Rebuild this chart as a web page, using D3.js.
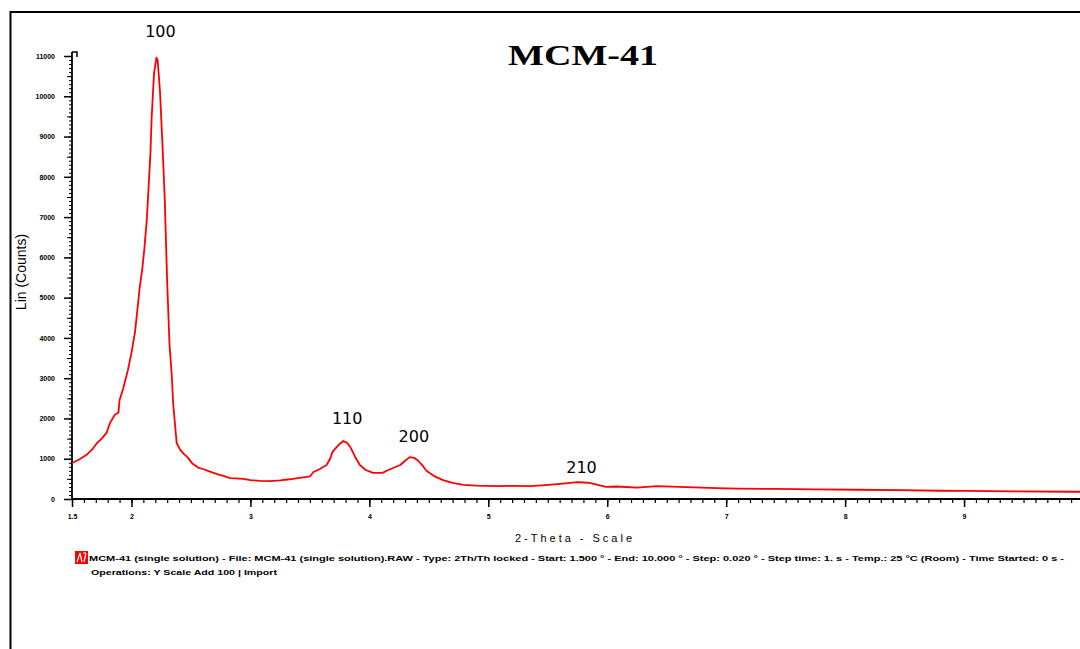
<!DOCTYPE html>
<html>
<head>
<meta charset="utf-8">
<script src="https://cdn.jsdelivr.net/npm/d3@7"></script>
<style>
  html, body { margin: 0; padding: 0; background: #fff; }
  svg { display: block; }
</style>
</head>
<body>
<svg id="chart" width="1080" height="649"></svg>
<script>
// XRD pattern of MCM-41: 2-theta (degrees) and intensity (counts)
const twoTheta = [
  1.50, 1.56, 1.62, 1.67, 1.71, 1.75, 1.79, 1.82, 1.86, 1.89, 1.90, 1.93, 1.97,
  2.00, 2.03, 2.05, 2.07, 2.09, 2.11, 2.13, 2.16, 2.17, 2.19, 2.21, 2.22, 2.24,
  2.26, 2.28, 2.30, 2.32, 2.34, 2.35, 2.38, 2.41, 2.44, 2.47, 2.51, 2.56, 2.60,
  2.66, 2.72, 2.78, 2.83, 2.88, 2.94, 3.00, 3.08, 3.16, 3.25, 3.33, 3.40, 3.46,
  3.50, 3.53, 3.58, 3.64, 3.67, 3.69, 3.74, 3.78, 3.81, 3.84, 3.88, 3.92, 3.97,
  4.03, 4.11, 4.16, 4.20, 4.26, 4.30, 4.34, 4.38, 4.41, 4.45, 4.48, 4.55, 4.62,
  4.70, 4.79, 4.90, 5.07, 5.20, 5.35, 5.45, 5.58, 5.65, 5.75, 5.80, 5.85, 5.92,
  5.99, 6.08, 6.25, 6.42, 6.60, 6.80, 6.92, 7.10, 7.40, 7.76, 8.10, 8.46, 8.80,
  9.02, 9.40, 9.89, 10.00
];
const counts = [
  895, 980, 1090, 1230, 1390, 1500, 1640, 1890, 2090, 2140, 2460, 2740, 3200,
  3630, 4150, 4700, 5270, 5690, 6260, 6980, 8620, 9490, 10580, 10960, 10900, 10110,
  8840, 7430, 5400, 3830, 3010, 2390, 1390, 1220, 1120, 1040, 890, 780, 745,
  680, 620, 570, 520, 510, 500, 470, 450, 445, 465, 490, 520, 545,
  560, 670, 740, 845, 1000, 1170, 1340, 1440, 1400, 1290, 1050, 845, 720,
  650, 650, 720, 770, 845, 950, 1040, 1020, 950, 820, 700, 560, 470,
  400, 350, 330, 320, 325, 320, 340, 370, 390, 420, 410, 400, 350,
  300, 310, 280, 320, 300, 280, 270, 260, 250, 240, 230, 220, 205,
  200, 190, 180, 180
];

// Miller index annotations of the reflections
const peakLabels = ["100", "110", "200", "210"];
const peakPos = [2.21, 3.78, 4.34, 5.75];
const peakLabelHeight = [11470, 1860, 1420, 650];

// Axis tick values and labels
const xTickValues = [1.5, 2, 3, 4, 5, 6, 7, 8, 9];
const xTickLabels = ["1.5", "2", "3", "4", "5", "6", "7", "8", "9"];
const yTickValues = [0, 1000, 2000, 3000, 4000, 5000, 6000, 7000, 8000, 9000, 10000, 11000];
const yTickLabels = ["0", "1000", "2000", "3000", "4000", "5000", "6000", "7000", "8000", "9000", "10000", "11000"];

const legendLine1 = "MCM-41 (single solution) - File: MCM-41 (single solution).RAW - Type: 2Th/Th locked - Start: 1.500 \u00b0 - End: 10.000 \u00b0 - Step: 0.020 \u00b0 - Step time: 1. s - Temp.: 25 \u00b0C (Room) - Time Started: 0 s -";
const legendLine2 = "Operations: Y Scale Add 100 | Import";

const svg = d3.select("#chart");

// Outer frame (top and left edges)
svg.append("path")
  .attr("d", "M10.5,649 L10.5,12 L1080,12")
  .attr("fill", "none").attr("stroke", "#000").attr("stroke-width", 2);

const x = d3.scaleLinear().domain([1.5, 10]).range([72, 1083]);
const y = d3.scaleLinear().domain([0, 11000]).range([499, 56]);

// X axis: minor ticks every 0.1, major ticks with labels
const xMinor = svg.append("g").attr("transform", "translate(0,499)")
  .call(d3.axisBottom(x).tickValues(d3.range(15, 101).map(d => d / 10)).tickSize(4).tickFormat(""));
xMinor.select(".domain").remove();
xMinor.selectAll("line").attr("stroke", "#000").attr("stroke-width", 1.2);

const xMajor = svg.append("g").attr("transform", "translate(0,499)")
  .call(d3.axisBottom(x).tickValues(xTickValues).tickSize(8)
    .tickFormat((d, i) => xTickLabels[i]));
xMajor.select(".domain").remove();
xMajor.selectAll("line").attr("stroke", "#000").attr("stroke-width", 1.5);
xMajor.selectAll("text")
  .attr("y", 15).attr("font-family", "Liberation Sans, Arial, sans-serif")
  .attr("font-size", 7).attr("font-weight", "bold").attr("fill", "#000");

svg.append("line")
  .attr("x1", 72).attr("x2", 1080).attr("y1", 499).attr("y2", 499)
  .attr("stroke", "#000").attr("stroke-width", 1.8);

// Y axis: minor ticks every 100 counts, longer every 500, labelled every 1000
const yMinor = svg.append("g").attr("transform", "translate(72,0)")
  .call(d3.axisLeft(y).tickValues(d3.range(0, 11001, 100)).tickSize(3).tickFormat(""));
yMinor.select(".domain").remove();
yMinor.selectAll("line").attr("stroke", "#000").attr("stroke-width", 1);

const yMid = svg.append("g").attr("transform", "translate(72,0)")
  .call(d3.axisLeft(y).tickValues(d3.range(500, 11001, 1000)).tickSize(5).tickFormat(""));
yMid.select(".domain").remove();
yMid.selectAll("line").attr("stroke", "#000").attr("stroke-width", 1);

const yMajor = svg.append("g").attr("transform", "translate(72,0)")
  .call(d3.axisLeft(y).tickValues(yTickValues).tickSize(8)
    .tickFormat((d, i) => yTickLabels[i]));
yMajor.select(".domain").remove();
yMajor.selectAll("line").attr("stroke", "#000").attr("stroke-width", 1.5);
yMajor.selectAll("text")
  .attr("x", -17).attr("font-family", "Liberation Sans, Arial, sans-serif")
  .attr("font-size", 7).attr("font-weight", "bold").attr("fill", "#000");

svg.append("line")
  .attr("x1", 72).attr("x2", 72).attr("y1", 499).attr("y2", 52)
  .attr("stroke", "#000").attr("stroke-width", 1.8);
svg.append("path")
  .attr("d", `M72,52 L77,52 L77,57`)
  .attr("fill", "none").attr("stroke", "#000").attr("stroke-width", 1.5);

// Diffraction curve
const data = twoTheta.map((t, i) => ({ t, c: counts[i] }));
svg.append("path")
  .datum(data)
  .attr("fill", "none")
  .attr("stroke", "#ff0000")
  .attr("stroke-width", 1.8)
  .attr("stroke-linejoin", "round")
  .attr("d", d3.line().x(d => x(d.t)).y(d => y(d.c)));

// Reflection labels
svg.append("g").selectAll("text")
  .data(peakLabels)
  .join("text")
  .attr("x", (d, i) => x(peakPos[i]) + 4)
  .attr("y", (d, i) => y(peakLabelHeight[i]))
  .attr("text-anchor", "middle")
  .attr("font-family", "DejaVu Sans, Verdana, sans-serif")
  .attr("font-size", 16)
  .attr("fill", "#000")
  .text(d => d);

// Title
svg.append("text")
  .attr("x", 508).attr("y", 65)
  .attr("font-family", "Liberation Serif, Times New Roman, serif")
  .attr("font-weight", "bold").attr("font-size", 30)
  .attr("textLength", 150).attr("lengthAdjust", "spacingAndGlyphs")
  .text("MCM-41");

// Axis titles
svg.append("text")
  .attr("transform", "translate(26,272) rotate(-90)")
  .attr("text-anchor", "middle")
  .attr("font-family", "Liberation Sans, Arial, sans-serif")
  .attr("font-size", 14)
  .text("Lin (Counts)");

svg.append("text")
  .attr("x", 515).attr("y", 542)
  .attr("font-family", "Liberation Sans, Arial, sans-serif")
  .attr("font-size", 11)
  .attr("textLength", 117).attr("lengthAdjust", "spacing")
  .text("2-Theta - Scale");

// Legend
const lg = svg.append("g");
lg.append("rect").attr("x", 75).attr("y", 551).attr("width", 13).attr("height", 13).attr("fill", "#ff0000");
lg.append("path")
  .attr("d", "M77,562 L80,553 M80,553 L82,562 M83,553 L86,553 M86,553 L84,562")
  .attr("stroke", "#fff").attr("stroke-width", 1.2).attr("fill", "none");
lg.append("text")
  .attr("x", 89).attr("y", 561)
  .attr("font-family", "Liberation Sans, Arial, sans-serif")
  .attr("font-size", 8).attr("font-weight", "bold")
  .attr("textLength", 975).attr("lengthAdjust", "spacingAndGlyphs")
  .text(legendLine1);
lg.append("text")
  .attr("x", 91).attr("y", 575)
  .attr("font-family", "Liberation Sans, Arial, sans-serif")
  .attr("font-size", 8).attr("font-weight", "bold")
  .attr("textLength", 186).attr("lengthAdjust", "spacingAndGlyphs")
  .text(legendLine2);
</script>
</body>
</html>
